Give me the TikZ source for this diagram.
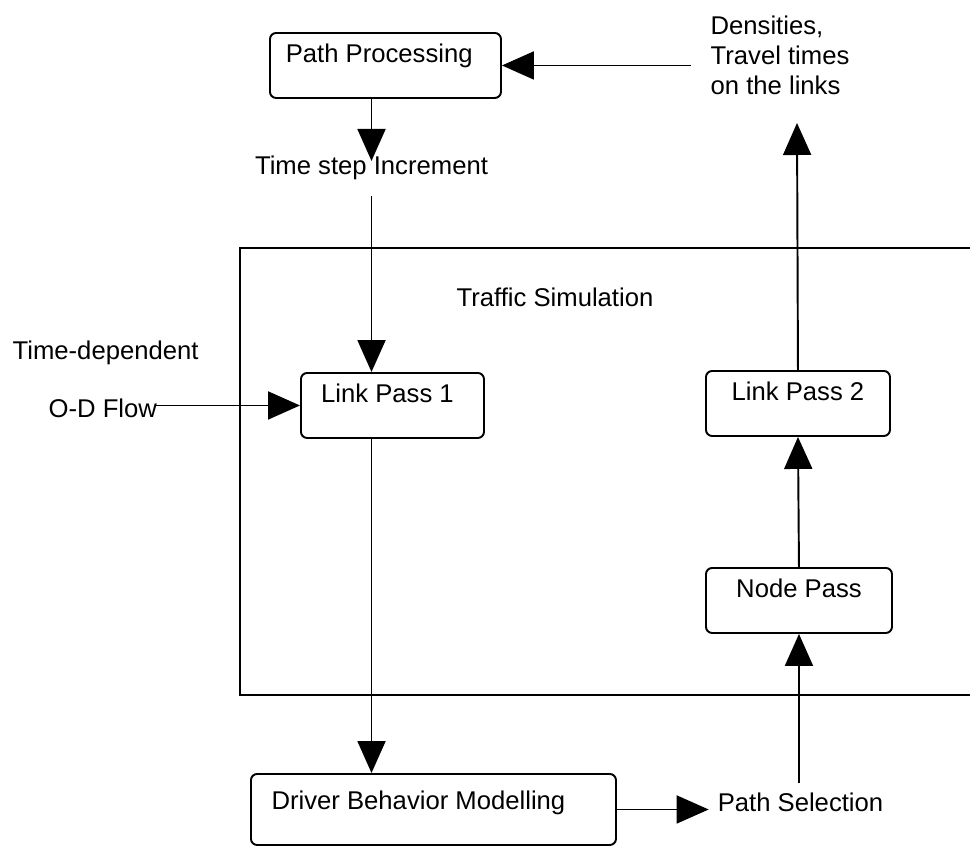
\documentclass[tikz,border=0pt]{standalone}
\usepackage{fontspec}
\setmainfont{Liberation Sans}
\usetikzlibrary{arrows.meta, positioning}

\begin{document}
\begin{tikzpicture}[
  font=\fontsize{14.6}{17}\selectfont,
  box/.style={rectangle, rounded corners=3.5pt, draw, line width=1.1pt,
              anchor=north west, minimum width=#1, inner ysep=0pt,
              text height=0.6cm, text depth=0.7cm},
  arr/.style={-{Triangle[length=0.64cm, width=0.56cm]}, line width=1.1pt},
  lbl/.style={inner sep=5pt, align=left}
]
\useasboundingbox (0,0) rectangle (19.4,-16.94);

% Simulation frame (open at the right)
\draw[line width=1.1pt] (19.6,-4.96) -| (4.8,-13.9) -- (19.6,-13.9);
\node[lbl] (trafsim) at (11.1,-5.94) {Traffic Simulation};

% Boxes
\node[box=4.62cm] (pathproc) at (5.38,-0.64)  {Path Processing\hspace*{0.25cm}};
\node[box=3.66cm] (link1)    at (6.0,-7.44)   {Link Pass 1\hspace*{0.2cm}};
\node[box=3.68cm] (link2)    at (14.1,-7.4)   {Link Pass 2};
\node[box=3.72cm] (nodepass) at (14.1,-11.34) {Node Pass};
\node[box=7.3cm, text height=0.72cm] (driver) at (5.0,-15.46) {Driver Behavior Modelling\hspace*{0.6cm}};

% Free labels
\node[lbl] (tsi)     at (7.43,-3.36) {Time step Increment};
\node[lbl, anchor=west] (dens)    at (14.03,-1.1) {Densities,\\Travel times\\on the links};
\node[lbl, anchor=west] (timedep) at (0.07,-7.06) {Time-dependent};
\node[lbl, anchor=west] (odflow)  at (0.79,-8.16) {O-D Flow};
\node[lbl] (pathsel) at (16.01,-16.04) {Path Selection};
\coordinate (outtip) at (15.94,-2.46);

% Left column
\draw[arr] (pathproc.south -| tsi) -- ([yshift=-8pt]tsi.north);
\draw[arr] ([yshift=-4pt]tsi.south) -- (tsi.south |- link1.north);
\draw[arr] ([xshift=-6pt]odflow.east |- link1.west) -- (link1.west);
\draw[arr] (link1.south -| tsi) -- (tsi |- driver.north);
\draw[arr] (driver.east) -- (driver.east -| pathsel.west);
% Right column
\draw[arr] (pathsel.north -| nodepass) -- (nodepass.south);
\draw[arr] (nodepass.north) -- (link2.south);
\draw[arr] (link2.north) -- (outtip);
\draw[arr] ([xshift=-6pt]dens.west |- pathproc.east) -- (pathproc.east);
\end{tikzpicture}
\end{document}
